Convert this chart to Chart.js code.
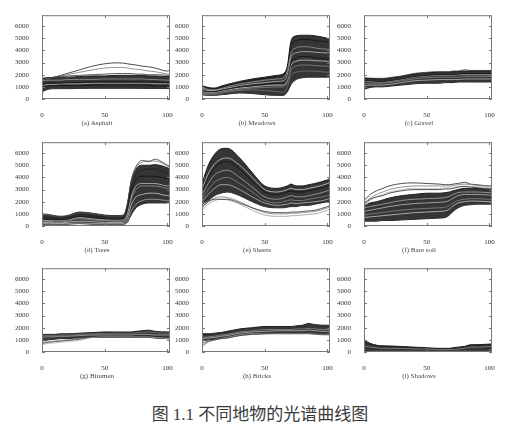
<!DOCTYPE html>
<html>
<head>
<meta charset="utf-8">
<script src="https://cdn.jsdelivr.net/npm/chart.js@4.4.0/dist/chart.umd.min.js"></script>
<style>
  body { margin: 0; background: #fff; }
  #wrap { position: relative; width: 513px; height: 423px; overflow: hidden; }
  canvas { position: absolute; }
  .cap { position: absolute; width: 100px; text-align: center; font: 7px "Liberation Serif", serif; color: #444; }
  #fig { position: absolute; left: 0; width: 520px; top: 400px; text-align: center;
         font: 17px "Liberation Serif", "Noto Sans CJK SC", serif; color: #3a3a3a; }
</style>
</head>
<body>
<div id="wrap"></div>
<script>
// band index positions shared by all spectra
const X = [0, 5, 10, 15, 20, 30, 40, 50, 60, 65, 68, 71, 75, 80, 85, 90, 100, 102];
const yTicks = [0, 1000, 2000, 3000, 4000, 5000, 6000];
const xTicks = [0, 50, 100];

const asphaltLow  = [600, 800, 850, 850, 850, 870, 880, 880, 880, 880, 880, 880, 880, 870, 870, 870, 860, 860];
const asphaltHigh = [1700, 1750, 1750, 1800, 1800, 1850, 1900, 1900, 1950, 1950, 1950, 1950, 1950, 1950, 1900, 1900, 1850, 1850];
const asphaltLines = [
  [1200, 1300, 1300, 1300, 1350, 1350, 1400, 1400, 1400, 1400, 1400, 1400, 1400, 1400, 1400, 1400, 1350, 1350],
  [1000, 1050, 1100, 1100, 1100, 1100, 1150, 1150, 1150, 1150, 1150, 1150, 1150, 1150, 1100, 1100, 1100, 1100],
  [1500, 1550, 1550, 1550, 1600, 1600, 1600, 1650, 1650, 1650, 1650, 1650, 1650, 1650, 1600, 1600, 1550, 1550],
  [1100, 1200, 1200, 1250, 1250, 1250, 1300, 1300, 1300, 1300, 1300, 1300, 1300, 1300, 1300, 1250, 1250, 1250],
  [1700, 1750, 1800, 1850, 1900, 1950, 2000, 2050, 2100, 2100, 2100, 2100, 2050, 2050, 2000, 2000, 1950, 1900],
  [1600, 1700, 1800, 1900, 2000, 2200, 2400, 2550, 2600, 2600, 2550, 2500, 2450, 2400, 2300, 2250, 2050, 2000],
  [1500, 1700, 1800, 1950, 2100, 2400, 2700, 2900, 2980, 2950, 2900, 2850, 2800, 2700, 2650, 2550, 2300, 2400]
];
const asphaltShades = ['#111', '#111', '#999', '#bbb', '#333', '#777', '#222'];

const meadowsLow  = [350, 300, 300, 350, 400, 500, 450, 350, 300, 300, 600, 1200, 1600, 1750, 1800, 1800, 1800, 1800];
const meadowsHigh = [1100, 950, 900, 1050, 1200, 1450, 1650, 1800, 1950, 2100, 2700, 4800, 5200, 5250, 5250, 5200, 5000, 4950];
const meadowsLines = [
  [700, 600, 600, 700, 800, 1000, 1100, 1200, 1300, 1300, 1700, 3000, 3400, 3500, 3500, 3400, 3300, 3300],
  [500, 450, 450, 550, 650, 800, 900, 950, 1000, 1000, 1400, 2400, 2700, 2800, 2800, 2750, 2700, 2700],
  [900, 800, 750, 850, 1000, 1250, 1400, 1550, 1650, 1750, 2300, 3800, 4200, 4300, 4300, 4200, 4100, 4100],
  [600, 550, 550, 650, 750, 900, 1000, 1100, 1150, 1150, 1600, 2800, 3100, 3200, 3200, 3150, 3100, 3050],
  [800, 700, 700, 800, 900, 1100, 1250, 1350, 1450, 1500, 2000, 3500, 3800, 3900, 3900, 3850, 3800, 3800],
  [400, 350, 350, 450, 550, 700, 750, 700, 600, 550, 1000, 2000, 2200, 2300, 2300, 2300, 2200, 2200],
  [1000, 900, 850, 950, 1100, 1350, 1550, 1700, 1850, 2000, 2500, 4400, 4800, 4900, 4900, 4800, 4700, 4600]
];
const meadowsShades = ['#111', '#888', '#999', '#ccc', '#bbb', '#777', '#111'];

const gravelLow  = [800, 950, 1000, 1000, 1050, 1150, 1250, 1300, 1300, 1350, 1350, 1350, 1400, 1400, 1400, 1400, 1400, 1400];
const gravelHigh = [1700, 1700, 1650, 1650, 1700, 1850, 2050, 2150, 2200, 2200, 2200, 2250, 2250, 2300, 2300, 2300, 2300, 2300];
const gravelLines = [
  [1300, 1300, 1300, 1300, 1350, 1500, 1650, 1750, 1800, 1800, 1800, 1800, 1800, 1850, 1850, 1850, 1850, 1850],
  [1100, 1150, 1150, 1150, 1200, 1350, 1500, 1550, 1600, 1600, 1600, 1600, 1600, 1650, 1650, 1650, 1650, 1650],
  [1500, 1500, 1450, 1450, 1500, 1650, 1850, 1950, 2000, 2000, 2000, 2000, 2050, 2100, 2100, 2100, 2100, 2100],
  [1450, 1450, 1400, 1400, 1450, 1600, 1800, 1900, 1950, 1950, 1950, 1950, 2000, 2000, 2000, 2000, 2000, 2000],
  [1750, 1700, 1700, 1700, 1750, 1900, 2100, 2200, 2250, 2250, 2250, 2300, 2300, 2400, 2350, 2350, 2350, 2350]
];
const gravelShades = ['#888', '#bbb', '#111', '#aaa', '#222'];

const treesLow  = [150, 150, 150, 150, 150, 200, 150, 150, 150, 150, 300, 900, 1500, 1800, 1900, 1900, 1900, 1900];
const treesHigh = [1000, 950, 850, 800, 850, 1150, 1050, 900, 850, 900, 1800, 3600, 4700, 5000, 5000, 5050, 4800, 4700];
const treesLines = [
  [600, 550, 500, 500, 550, 800, 700, 600, 550, 600, 1300, 2800, 3800, 4100, 4100, 4100, 3900, 3900],
  [400, 400, 350, 350, 400, 600, 500, 450, 400, 450, 1000, 2200, 3000, 3300, 3300, 3300, 3100, 3100],
  [500, 450, 450, 450, 500, 700, 600, 500, 500, 500, 1100, 2400, 3300, 3500, 3500, 3500, 3300, 3300],
  [300, 300, 250, 250, 300, 400, 350, 300, 300, 300, 700, 1700, 2400, 2600, 2700, 2700, 2500, 2500],
  [750, 700, 650, 650, 700, 950, 850, 750, 700, 750, 1500, 3200, 4300, 4600, 4700, 4700, 4400, 4400],
  [200, 200, 200, 200, 200, 250, 200, 200, 200, 200, 400, 1200, 1800, 2100, 2200, 2200, 2100, 2100],
  [900, 850, 800, 750, 800, 1100, 1000, 850, 800, 850, 1700, 3700, 4900, 5400, 5300, 5500, 5000, 4900],
  [950, 900, 800, 750, 800, 1100, 1000, 850, 800, 850, 1750, 3600, 4800, 5250, 5350, 5350, 4950, 4850]
];
const treesShades = ['#111', '#999', '#bbb', '#ccc', '#222', '#aaa', '#333', '#777'];

const sheetsLow  = [1800, 2100, 2500, 2700, 2800, 2500, 2000, 1600, 1500, 1500, 1550, 1600, 1600, 1700, 1700, 1800, 2000, 2050];
const sheetsHigh = [3500, 5000, 5900, 6350, 6400, 5600, 4400, 3300, 3100, 3200, 3300, 3450, 3300, 3300, 3400, 3500, 3800, 3900];
const sheetsLines = [
  [2800, 4000, 4800, 5200, 5300, 4700, 3700, 2800, 2600, 2700, 2800, 2900, 2800, 2800, 2900, 3000, 3300, 3400],
  [2500, 3500, 4200, 4500, 4600, 4000, 3200, 2400, 2200, 2300, 2400, 2500, 2400, 2400, 2500, 2600, 2900, 3000],
  [2200, 3000, 3600, 3900, 4000, 3500, 2800, 2100, 1900, 2000, 2100, 2150, 2100, 2100, 2200, 2300, 2500, 2600],
  [3000, 4300, 5100, 5500, 5600, 5000, 4000, 3000, 2800, 2900, 3000, 3100, 3000, 3000, 3100, 3200, 3500, 3600],
  [2000, 2600, 3100, 3400, 3400, 3000, 2400, 1900, 1700, 1750, 1800, 1900, 1850, 1900, 1950, 2000, 2200, 2300],
  [1600, 2000, 2200, 2200, 2200, 1900, 1500, 1200, 1100, 1100, 1100, 1150, 1150, 1200, 1250, 1300, 1600, 1700],
  [1500, 2000, 2300, 2400, 2350, 2000, 1500, 1100, 1000, 1000, 1000, 1050, 1050, 1100, 1150, 1200, 1500, 1600],
  [1300, 1800, 2100, 2200, 2150, 1800, 1300, 900, 800, 800, 800, 850, 850, 900, 950, 1000, 1300, 1400]
];
const sheetsShades = ['#111', '#aaa', '#888', '#ccc', '#bbb', '#333', '#777', '#999'];

const soilLow  = [400, 400, 400, 450, 450, 500, 550, 600, 650, 700, 900, 1200, 1500, 1700, 1750, 1800, 1800, 1800];
const soilHigh = [1700, 1900, 2000, 2150, 2300, 2500, 2600, 2700, 2700, 2750, 2800, 2900, 3000, 3100, 3100, 3100, 3000, 3000];
const soilLines = [
  [1200, 1300, 1400, 1500, 1600, 1750, 1850, 1900, 1950, 2000, 2100, 2300, 2500, 2600, 2600, 2600, 2550, 2550],
  [900, 1000, 1050, 1100, 1200, 1300, 1400, 1450, 1500, 1550, 1700, 1900, 2100, 2200, 2250, 2250, 2200, 2200],
  [700, 750, 800, 850, 900, 1000, 1100, 1150, 1200, 1250, 1400, 1650, 1900, 2000, 2050, 2050, 2000, 2000],
  [1500, 1600, 1700, 1800, 1900, 2100, 2200, 2250, 2300, 2350, 2450, 2600, 2750, 2800, 2800, 2800, 2750, 2750],
  [1800, 2200, 2400, 2500, 2700, 2900, 3000, 3000, 3000, 3050, 3050, 3100, 3200, 3250, 3200, 3150, 3100, 3100],
  [1600, 2100, 2400, 2600, 2800, 3000, 3100, 3100, 3100, 3150, 3150, 3200, 3250, 3300, 3250, 3250, 3200, 3200],
  [1900, 2300, 2600, 2800, 3000, 3200, 3300, 3300, 3300, 3300, 3300, 3350, 3400, 3450, 3400, 3350, 3250, 3200],
  [2100, 2600, 2900, 3100, 3300, 3500, 3550, 3500, 3450, 3400, 3400, 3450, 3500, 3600, 3450, 3400, 3300, 3300]
];
const soilShades = ['#bbb', '#888', '#ccc', '#aaa', '#222', '#bbb', '#777', '#222'];

const bitumenLow  = [900, 1000, 1050, 1100, 1100, 1150, 1200, 1200, 1200, 1200, 1200, 1200, 1200, 1200, 1200, 1150, 1100, 1100];
const bitumenHigh = [1450, 1450, 1450, 1500, 1500, 1550, 1600, 1650, 1650, 1650, 1650, 1650, 1700, 1750, 1800, 1700, 1650, 1650];
const bitumenLines = [
  [1200, 1250, 1250, 1300, 1300, 1350, 1400, 1400, 1400, 1400, 1400, 1400, 1450, 1450, 1450, 1400, 1400, 1400],
  [1350, 1350, 1350, 1400, 1400, 1450, 1500, 1500, 1550, 1550, 1550, 1550, 1600, 1600, 1650, 1600, 1550, 1550],
  [800, 850, 900, 950, 1000, 1100, 1200, 1250, 1250, 1250, 1250, 1250, 1250, 1250, 1250, 1200, 1150, 1150],
  [700, 800, 850, 900, 950, 1050, 1250, 1300, 1300, 1300, 1300, 1300, 1300, 1300, 1300, 1250, 1200, 1200],
  [600, 700, 750, 800, 850, 950, 1200, 1250, 1250, 1250, 1250, 1250, 1250, 1250, 1250, 1200, 1150, 1150]
];
const bitumenShades = ['#aaa', '#777', '#888', '#222', '#bbb'];

const bricksLow  = [900, 1000, 1050, 1150, 1200, 1400, 1500, 1550, 1600, 1600, 1600, 1600, 1600, 1600, 1600, 1550, 1500, 1500];
const bricksHigh = [1500, 1500, 1550, 1600, 1700, 1900, 2000, 2100, 2100, 2100, 2100, 2100, 2150, 2200, 2350, 2250, 2200, 2200];
const bricksLines = [
  [1200, 1250, 1300, 1400, 1450, 1650, 1750, 1850, 1850, 1850, 1850, 1850, 1900, 1900, 1950, 1900, 1850, 1850],
  [1100, 1150, 1200, 1300, 1350, 1550, 1650, 1700, 1750, 1750, 1750, 1750, 1750, 1750, 1800, 1750, 1700, 1700],
  [700, 900, 1000, 1100, 1150, 1350, 1450, 1500, 1550, 1550, 1550, 1550, 1550, 1550, 1550, 1500, 1450, 1450],
  [500, 850, 1000, 1100, 1150, 1350, 1450, 1500, 1500, 1500, 1500, 1500, 1500, 1500, 1500, 1450, 1400, 1400],
  [400, 800, 1000, 1100, 1200, 1400, 1500, 1500, 1500, 1500, 1500, 1500, 1500, 1500, 1500, 1450, 1450, 1450]
];
const bricksShades = ['#888', '#bbb', '#444', '#777', '#bbb'];

const shadowsLow  = [150, 100, 100, 100, 100, 100, 100, 100, 100, 100, 100, 100, 100, 100, 100, 100, 100, 100];
const shadowsHigh = [900, 700, 550, 500, 500, 450, 400, 350, 300, 300, 300, 350, 400, 450, 600, 600, 650, 650];
const shadowsLines = [
  [500, 400, 350, 300, 300, 300, 250, 250, 200, 200, 200, 200, 250, 300, 400, 400, 450, 450],
  [1000, 700, 550, 500, 450, 400, 350, 300, 250, 250, 250, 300, 350, 450, 550, 550, 600, 600]
];
const shadowsShades = ['#888', '#222'];

const captions = ['(a) Asphalt', '(b) Meadows', '(c) Gravel', '(d) Trees', '(e) Sheets',
                  '(f) Bare soil', '(g) Bitumen', '(h) Bricks', '(i) Shadows'];
const panels = [
  [asphaltLow, asphaltHigh, asphaltLines, asphaltShades],
  [meadowsLow, meadowsHigh, meadowsLines, meadowsShades],
  [gravelLow, gravelHigh, gravelLines, gravelShades],
  [treesLow, treesHigh, treesLines, treesShades],
  [sheetsLow, sheetsHigh, sheetsLines, sheetsShades],
  [soilLow, soilHigh, soilLines, soilShades],
  [bitumenLow, bitumenHigh, bitumenLines, bitumenShades],
  [bricksLow, bricksHigh, bricksLines, bricksShades],
  [shadowsLow, shadowsHigh, shadowsLines, shadowsShades]
];

// layout of the 3x3 grid (plot area corners)
const colLeft = [42, 202, 364];
const rowTop = [10, 137, 263];
const plotW = 128, plotH = 89;
const yAxisW = 32, xAxisH = 32, padTop = 4, padRight = 8;

const serif = '"Liberation Serif", serif';

// frame with inward ticks on all four sides, like the gnuplot originals
const framePlugin = {
  id: 'frame',
  afterDraw(chart) {
    const c = chart.ctx, a = chart.chartArea;
    const sx = chart.scales.x, sy = chart.scales.y;
    c.save();
    c.strokeStyle = '#777';
    c.lineWidth = 1;
    c.strokeRect(a.left + 0.5, a.top + 0.5, a.right - a.left - 1, a.bottom - a.top - 1);
    c.beginPath();
    sy.ticks.forEach(t => {
      const p = Math.round(sy.getPixelForValue(t.value)) + 0.5;
      c.moveTo(a.left, p); c.lineTo(a.left + 3, p);
      c.moveTo(a.right, p); c.lineTo(a.right - 3, p);
    });
    sx.ticks.forEach(t => {
      const p = Math.round(sx.getPixelForValue(t.value)) + 0.5;
      c.moveTo(p, a.bottom); c.lineTo(p, a.bottom - 3);
      c.moveTo(p, a.top); c.lineTo(p, a.top + 3);
    });
    c.stroke();
    c.restore();
  }
};

const wrap = document.getElementById('wrap');

function pts(vals) {
  return vals.map((v, i) => ({ x: X[i], y: v }));
}

panels.forEach((p, k) => {
  const [low, high, lines, shades] = p;
  const col = k % 3, row = Math.floor(k / 3);
  const cv = document.createElement('canvas');
  cv.width = yAxisW + plotW + padRight;
  cv.height = padTop + plotH + xAxisH;
  cv.style.left = (colLeft[col] - yAxisW) + 'px';
  cv.style.top = (rowTop[row] - padTop) + 'px';
  wrap.appendChild(cv);

  const cap = document.createElement('div');
  cap.className = 'cap';
  cap.textContent = captions[k];
  cap.style.left = (colLeft[col] + plotW / 2 - 9 - 50) + 'px';
  cap.style.top = (rowTop[row] + plotH + 20) + 'px';
  wrap.appendChild(cap);

  // band datasets get a high order so they are painted first, under the single curves
  const datasets = [
    { data: pts(low), borderColor: '#1e1e1e', borderWidth: 1, fill: false, order: 100 },
    { data: pts(high), borderColor: '#1e1e1e', borderWidth: 1, fill: '-1', backgroundColor: '#353535', order: 99 }
  ];
  lines.forEach((l, i) => {
    datasets.push({ data: pts(l), borderColor: shades[i], borderWidth: 0.8, fill: false, order: i });
  });

  new Chart(cv, {
    type: 'line',
    data: { datasets: datasets },
    options: {
      responsive: false,
      animation: false,
      devicePixelRatio: 1,
      layout: { padding: { top: padTop, right: padRight, left: 0, bottom: 0 } },
      elements: { point: { radius: 0 }, line: { cubicInterpolationMode: 'monotone' } },
      plugins: { legend: { display: false }, tooltip: { enabled: false } },
      scales: {
        x: {
          type: 'linear', min: 0, max: 102,
          grid: { display: false }, border: { display: false },
          afterFit(s) { s.height = xAxisH; },
          afterBuildTicks(s) { s.ticks = xTicks.map(v => ({ value: v })); },
          ticks: { padding: 4, color: '#333', font: { family: serif, size: 7 }, maxRotation: 0,
                   callback: v => String(v) }
        },
        y: {
          min: 0, max: 6900,
          grid: { display: false }, border: { display: false },
          afterFit(s) { s.width = yAxisW; },
          afterBuildTicks(s) { s.ticks = yTicks.map(v => ({ value: v })); },
          ticks: { padding: 5, color: '#333', font: { family: serif, size: 7 },
                   callback: v => String(v) }
        }
      }
    },
    plugins: [framePlugin]
  });
});

const fig = document.createElement('div');
fig.id = 'fig';
fig.textContent = '图 1.1 不同地物的光谱曲线图';
wrap.appendChild(fig);
</script>
</body>
</html>
